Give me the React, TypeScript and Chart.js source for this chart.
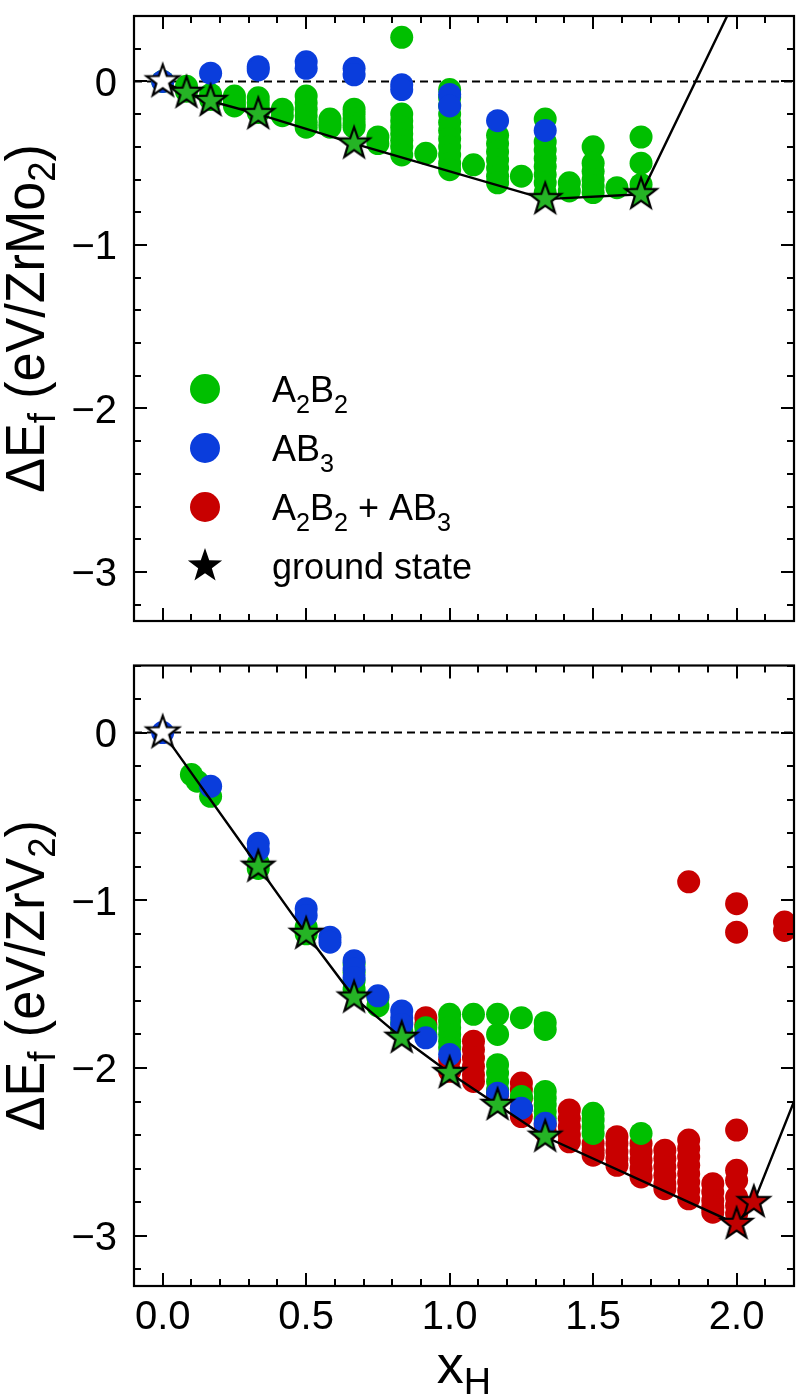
import { useEffect, useRef } from "react";
import { Chart, registerables } from "chart.js";

Chart.register(...registerables);

const FONT = '"Liberation Sans", Arial, Helvetica, sans-serif';

const GREEN = "#00bf00";
const BLUE = "#0a3ddc";
const RED = "#c80000";
const STAR_GREEN = "#25b425";
const STAR_RED = "#c00000";

// [x_H, energies at that x_H]
type Column = [number, number[]];
type Pt = [number, number];

// ---------- ZrMo2 ----------
const moA2B2: Column[] = [
  [0, [0]],
  [0.083, [-0.03, -0.06]],
  [0.167, [-0.08, -0.11]],
  [0.25, [-0.09, -0.12, -0.15]],
  [0.333, [-0.1, -0.13, -0.16, -0.19]],
  [0.417, [-0.17, -0.21]],
  [0.5, [-0.09, -0.13, -0.17, -0.21, -0.25, -0.28]],
  [0.583, [-0.23, -0.26, -0.28]],
  [0.667, [-0.17, -0.2, -0.23, -0.26, -0.28]],
  [0.75, [-0.34, -0.38]],
  [0.833, [0.27, -0.2, -0.24, -0.28, -0.32, -0.36, -0.4, -0.45]],
  [0.917, [-0.44]],
  [1.0, [-0.05, -0.1, -0.15, -0.2, -0.25, -0.3, -0.35, -0.4, -0.45, -0.5, -0.54]],
  [1.083, [-0.51]],
  [1.167, [-0.33, -0.38, -0.43, -0.48, -0.53, -0.58, -0.62]],
  [1.25, [-0.58]],
  [1.333, [-0.23, -0.37, -0.42, -0.47, -0.52, -0.57, -0.62, -0.68]],
  [1.417, [-0.62, -0.67]],
  [1.5, [-0.4, -0.5, -0.55, -0.6, -0.64, -0.68]],
  [1.583, [-0.65]],
  [1.667, [-0.34, -0.5, -0.63]],
];
const moAB3: Column[] = [
  [0, [0]],
  [0.167, [0.05]],
  [0.333, [0.09, 0.07]],
  [0.5, [0.12, 0.08]],
  [0.667, [0.08, 0.04]],
  [0.833, [-0.02, -0.05]],
  [1.0, [-0.08, -0.15]],
  [1.167, [-0.24]],
  [1.333, [-0.3]],
];
const moMixed: Column[] = [];
const moReference: Pt[] = [[0, 0]];
const moGroundGreen: Pt[] = [
  [0.083, -0.07], [0.167, -0.12], [0.333, -0.2], [0.667, -0.38], [1.333, -0.72], [1.667, -0.69],
];
const moGroundRed: Pt[] = [];
const moHull: Pt[] = [
  [0, 0], [0.083, -0.07], [0.167, -0.12], [0.333, -0.2], [0.667, -0.38], [1.333, -0.72], [1.667, -0.69], [2.0, 0.52],
];

// ---------- ZrV2 ----------
const vA2B2: Column[] = [
  [0.1, [-0.25]],
  [0.12, [-0.29]],
  [0.167, [-0.38]],
  [0.333, [-0.78, -0.81]],
  [0.5, [-1.16, -1.2]],
  [0.667, [-1.38, -1.43, -1.48, -1.53]],
  [0.75, [-1.58, -1.63]],
  [0.833, [-1.73, -1.78]],
  [0.917, [-1.76, -1.8]],
  [1.0, [-1.68, -1.72, -1.76, -1.8, -1.84, -1.88]],
  [1.083, [-1.68]],
  [1.167, [-1.68, -1.8, -1.98, -2.03, -2.08, -2.13]],
  [1.25, [-1.7, -2.17]],
  [1.333, [-1.73, -1.77, -2.14, -2.18, -2.22, -2.26, -2.3]],
  [1.5, [-2.27, -2.31, -2.35, -2.39]],
  [1.667, [-2.39]],
];
const vAB3: Column[] = [
  [0, [0]],
  [0.167, [-0.32]],
  [0.333, [-0.66, -0.7]],
  [0.5, [-1.05, -1.09]],
  [0.583, [-1.22, -1.25]],
  [0.667, [-1.36, -1.41, -1.46]],
  [0.75, [-1.57]],
  [0.833, [-1.66, -1.7, -1.74]],
  [0.917, [-1.82]],
  [1.0, [-1.92]],
  [1.167, [-2.15]],
  [1.25, [-2.24]],
  [1.333, [-2.33]],
];
const vMixed: Column[] = [
  [0.917, [-1.7, -1.74]],
  [1.0, [-1.95, -2.02]],
  [1.083, [-1.84, -1.89, -1.94, -1.99, -2.04, -2.08]],
  [1.167, [-2.16]],
  [1.25, [-2.09, -2.13, -2.18, -2.24, -2.29]],
  [1.333, [-2.34, -2.38]],
  [1.417, [-2.25, -2.3, -2.35, -2.4, -2.44]],
  [1.5, [-2.45, -2.49, -2.52]],
  [1.583, [-2.41, -2.45, -2.5, -2.54, -2.58]],
  [1.667, [-2.45, -2.5, -2.55, -2.6, -2.65]],
  [1.75, [-2.49, -2.54, -2.59, -2.64, -2.69, -2.72]],
  [1.833, [-0.89, -2.43, -2.48, -2.53, -2.58, -2.63, -2.68, -2.73, -2.78]],
  [1.917, [-2.69, -2.74, -2.79, -2.83, -2.86]],
  [2.0, [-1.02, -1.19, -2.37, -2.61, -2.67, -2.77, -2.82, -2.87]],
  [2.167, [-1.13, -1.18]],
];
const vReference: Pt[] = [[0, 0]];
const vGroundGreen: Pt[] = [
  [0.333, -0.8], [0.5, -1.2], [0.667, -1.58], [0.833, -1.82], [1.0, -2.03], [1.167, -2.22], [1.333, -2.41],
];
const vGroundRed: Pt[] = [[2.0, -2.93], [2.06, -2.8]];
const vHull: Pt[] = [
  [0, 0], [0.333, -0.8], [0.5, -1.2], [0.667, -1.58], [0.833, -1.82], [1.0, -2.03], [1.167, -2.22],
  [1.333, -2.41], [2.0, -2.93], [2.06, -2.8], [2.3, -1.77],
];

// ---------- axes ----------
const X_MIN = -0.1;
const X_MAX = 2.2;
const Y_MIN = -3.3;
const Y_MAX = 0.4;
const xMajorTicks = [0, 0.5, 1.0, 1.5, 2.0];
const xTickLabels = ["0.0", "0.5", "1.0", "1.5", "2.0"];
const yMajorTicks = [0, -1, -2, -3];
const yTickLabels = ["0", "\u22121", "\u22122", "\u22123"];

type Part = { t: string; sub?: boolean };

const legendEntries: { parts: Part[]; color: string; star?: boolean }[] = [
  { parts: [{ t: "A" }, { t: "2", sub: true }, { t: "B" }, { t: "2", sub: true }], color: GREEN },
  { parts: [{ t: "AB" }, { t: "3", sub: true }], color: BLUE },
  {
    parts: [
      { t: "A" }, { t: "2", sub: true }, { t: "B" }, { t: "2", sub: true }, { t: " + AB" }, { t: "3", sub: true },
    ],
    color: RED,
  },
  { parts: [{ t: "ground state" }], color: "#000", star: true },
];

const moTitle: Part[] = [{ t: "\u0394E" }, { t: "f", sub: true }, { t: " (eV/ZrMo" }, { t: "2", sub: true }, { t: ")" }];
const vTitle: Part[] = [{ t: "\u0394E" }, { t: "f", sub: true }, { t: " (eV/ZrV" }, { t: "2", sub: true }, { t: ")" }];
const xTitle: Part[] = [{ t: "x" }, { t: "H", sub: true }];

function flatten(cols: Column[]) {
  const out: { x: number; y: number }[] = [];
  cols.forEach(([x, ys]) => ys.forEach((y) => out.push({ x, y })));
  return out;
}
const toXY = (pts: Pt[]) => pts.map(([x, y]) => ({ x, y }));

function starPath(ctx: CanvasRenderingContext2D, R: number, r: number) {
  ctx.beginPath();
  for (let i = 0; i < 10; i++) {
    const rad = i % 2 === 0 ? R : r;
    const a = -Math.PI / 2 + (i * Math.PI) / 5;
    const px = rad * Math.cos(a);
    const py = rad * Math.sin(a);
    if (i === 0) ctx.moveTo(px, py);
    else ctx.lineTo(px, py);
  }
  ctx.closePath();
}

function makeStar(fill: string, R: number, lw: number): HTMLCanvasElement {
  const size = 2 * Math.ceil(R + lw * 3 + 2);
  const c = document.createElement("canvas");
  c.width = size;
  c.height = size;
  const ctx = c.getContext("2d")!;
  ctx.translate(size / 2, size / 2);
  starPath(ctx, R, R * 0.4);
  ctx.fillStyle = fill;
  ctx.fill();
  ctx.lineWidth = lw;
  ctx.strokeStyle = "#000";
  ctx.lineJoin = "miter";
  ctx.stroke();
  return c;
}

// Draws text with subscripts; squeeze narrows glyphs along the text direction.
function drawRich(
  ctx: CanvasRenderingContext2D,
  parts: Part[],
  x: number,
  y: number,
  size: number,
  align: "left" | "center",
  subShift: number,
  squeeze = 1
) {
  const subSize = size * 0.7;
  ctx.save();
  ctx.translate(x, y);
  ctx.scale(squeeze, 1);
  ctx.textAlign = "left";
  ctx.textBaseline = "alphabetic";
  const widths = parts.map((p) => {
    ctx.font = `${p.sub ? subSize : size}px ${FONT}`;
    return ctx.measureText(p.t).width;
  });
  const total = widths.reduce((s, w) => s + w, 0);
  let cx = align === "center" ? -total / 2 : 0;
  parts.forEach((p, i) => {
    ctx.font = `${p.sub ? subSize : size}px ${FONT}`;
    ctx.fillText(p.t, cx, p.sub ? size * subShift : 0);
    cx += widths[i];
  });
  ctx.restore();
}

type PanelSpec = {
  height: number;
  padTop: number;
  padBottom: number;
  title: Part[];
  xLabels: boolean;
  legend: boolean;
  a2b2: Column[];
  ab3: Column[];
  mixed: Column[];
  reference: Pt[];
  groundGreen: Pt[];
  groundRed: Pt[];
  hull: Pt[];
};

function axesPlugin(spec: PanelSpec) {
  return {
    id: "axesFrame",
    afterDatasetsDraw(chart: any) {
      const { ctx, chartArea: a, scales } = chart;
      const xs = scales.x;
      const ys = scales.y;
      ctx.save();
      ctx.strokeStyle = "#000";
      ctx.lineWidth = 2;
      ctx.beginPath();
      // x ticks: minor every 0.1, major every 0.5, on bottom and top
      for (let i = -1; i <= 22; i++) {
        const v = i / 10;
        const px = Math.round(xs.getPixelForValue(v));
        const len = i % 5 === 0 ? 13 : 7;
        ctx.moveTo(px, a.bottom);
        ctx.lineTo(px, a.bottom - len);
        ctx.moveTo(px, a.top);
        ctx.lineTo(px, a.top + len);
      }
      // y ticks: minor every 0.2, major every 1, on left and right
      for (let i = -16; i <= 2; i++) {
        const v = i / 5;
        const py = Math.round(ys.getPixelForValue(v));
        const len = i % 5 === 0 ? 13 : 7;
        ctx.moveTo(a.left, py);
        ctx.lineTo(a.left + len, py);
        ctx.moveTo(a.right, py);
        ctx.lineTo(a.right - len, py);
      }
      ctx.stroke();
      ctx.lineWidth = 2.2;
      ctx.strokeRect(a.left, a.top, a.right - a.left, a.bottom - a.top);

      ctx.fillStyle = "#000";
      // y tick labels
      ctx.font = `40px ${FONT}`;
      ctx.textAlign = "right";
      ctx.textBaseline = "alphabetic";
      yMajorTicks.forEach((v, i) => {
        const py = ys.getPixelForValue(v);
        ctx.fillText(yTickLabels[i], a.left - 17, py + 14.5);
      });
      // x tick labels and title
      if (spec.xLabels) {
        ctx.textAlign = "center";
        xMajorTicks.forEach((v, i) => {
          const px = xs.getPixelForValue(v);
          ctx.fillText(xTickLabels[i], px, a.bottom + 43);
        });
        drawRich(ctx, xTitle, (a.left + a.right) / 2, a.bottom + 97, 54, "center", 0.2);
      }
      // y title
      ctx.save();
      ctx.translate(44, (a.top + a.bottom) / 2);
      ctx.rotate(-Math.PI / 2);
      drawRich(ctx, spec.title, 0, 0, 56, "center", 0.2, 0.93);
      ctx.restore();

      // legend
      if (spec.legend) {
        legendEntries.forEach((e, i) => {
          const cy = 389 + i * 59;
          if (e.star) {
            ctx.save();
            ctx.translate(205, cy);
            starPath(ctx, 18, 7.2);
            ctx.fillStyle = "#000";
            ctx.fill();
            ctx.restore();
          } else {
            ctx.beginPath();
            ctx.arc(205, cy, 15, 0, Math.PI * 2);
            ctx.fillStyle = e.color;
            ctx.fill();
          }
          ctx.fillStyle = "#000";
          drawRich(ctx, e.parts, 272, cy + 13, 36, "left", 0.3);
        });
      }
      ctx.restore();
    },
  };
}

function buildConfig(spec: PanelSpec, stars: { green: HTMLCanvasElement; red: HTMLCanvasElement; white: HTMLCanvasElement }) {
  const dots = (data: { x: number; y: number }[], color: string, order: number) => ({
    data,
    backgroundColor: color,
    pointBackgroundColor: color,
    pointRadius: 11.5,
    pointBorderWidth: 0,
    borderWidth: 0,
    order,
    clip: 0,
  });
  const starSet = (data: { x: number; y: number }[], img: HTMLCanvasElement, order: number) => ({
    data,
    pointStyle: img,
    pointRadius: 16,
    pointBorderWidth: 0,
    order,
    clip: 0,
  });
  return {
    type: "scatter",
    data: {
      datasets: [
        {
          data: [{ x: X_MIN, y: 0 }, { x: X_MAX, y: 0 }],
          showLine: true,
          borderColor: "#000",
          borderWidth: 2,
          borderDash: [8, 5],
          pointRadius: 0,
          order: 10,
          clip: 0,
        },
        dots(flatten(spec.mixed), RED, 6),
        dots(flatten(spec.a2b2), GREEN, 5),
        dots(flatten(spec.ab3), BLUE, 4),
        {
          data: toXY(spec.hull),
          showLine: true,
          borderColor: "#000",
          borderWidth: 2.4,
          pointRadius: 0,
          order: 3,
          clip: 0,
        },
        starSet(toXY(spec.groundGreen), stars.green, 2),
        starSet(toXY(spec.groundRed), stars.red, 2),
        starSet(toXY(spec.reference), stars.white, 1),
      ],
    },
    options: {
      animation: false,
      responsive: false,
      events: [],
      layout: { padding: { left: 134, right: 2, top: spec.padTop, bottom: spec.padBottom } },
      scales: {
        x: { type: "linear", min: X_MIN, max: X_MAX, display: false },
        y: { type: "linear", min: Y_MIN, max: Y_MAX, display: false },
      },
      plugins: { legend: { display: false }, tooltip: { enabled: false } },
    },
    plugins: [axesPlugin(spec)],
  };
}

const panels: PanelSpec[] = [
  {
    height: 640,
    padTop: 0.5,
    padBottom: 19,
    title: moTitle,
    xLabels: false,
    legend: true,
    a2b2: moA2B2,
    ab3: moAB3,
    mixed: moMixed,
    reference: moReference,
    groundGreen: moGroundGreen,
    groundRed: moGroundRed,
    hull: moHull,
  },
  {
    height: 755,
    padTop: 25.5,
    padBottom: 109,
    title: vTitle,
    xLabels: true,
    legend: false,
    a2b2: vA2B2,
    ab3: vAB3,
    mixed: vMixed,
    reference: vReference,
    groundGreen: vGroundGreen,
    groundRed: vGroundRed,
    hull: vHull,
  },
];

function Panel({ spec, top }: { spec: PanelSpec; top: number }) {
  const ref = useRef<HTMLCanvasElement>(null);
  useEffect(() => {
    if (!ref.current) return;
    const stars = {
      green: makeStar(STAR_GREEN, 16.5, 2.2),
      red: makeStar(STAR_RED, 16.5, 2.2),
      white: makeStar("#ffffff", 17, 2.2),
    };
    const chart = new Chart(ref.current, buildConfig(spec, stars) as any);
    return () => chart.destroy();
  }, [spec]);
  return (
    <canvas
      ref={ref}
      width={810}
      height={spec.height}
      style={{ position: "absolute", left: 0, top, width: 810, height: spec.height }}
    />
  );
}

export default function App() {
  return (
    <div style={{ position: "absolute", left: 0, top: 0, width: 810, height: 1395, background: "#fff" }}>
      <Panel spec={panels[0]} top={0} />
      <Panel spec={panels[1]} top={640} />
    </div>
  );
}
